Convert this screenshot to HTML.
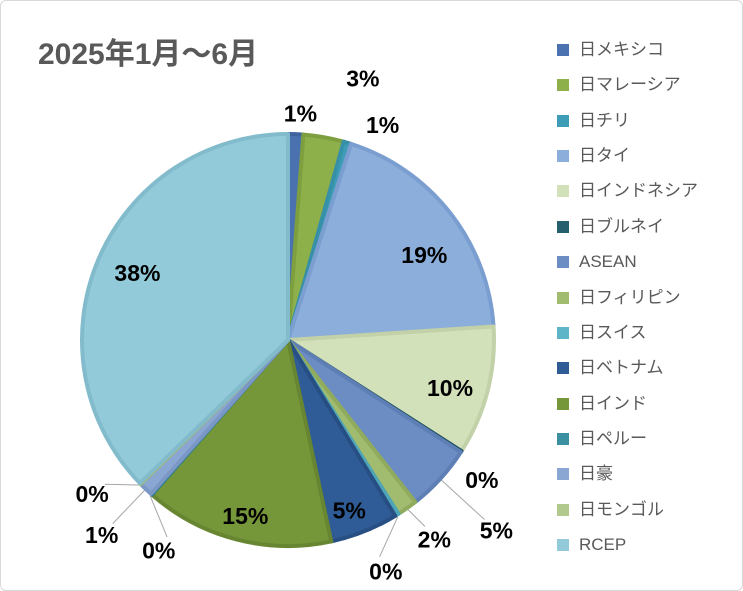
<!DOCTYPE html>
<html><head><meta charset="utf-8"><style>
html,body{margin:0;padding:0;background:#fff}
#card{position:absolute;left:0;top:0;width:741px;height:589px;border:1px solid #d9d9d9;border-radius:6px;overflow:hidden;font-family:"Liberation Sans","Noto Sans CJK JP",sans-serif}
#title{position:absolute;left:37px;top:28px;font-size:30px;font-weight:bold;color:#595959}
.leg{position:absolute;left:556px;font-size:17px;color:#595959;height:20px;line-height:20px}
.leg i{position:absolute;left:0;top:4px;width:12px;height:12px}
.leg span{position:absolute;left:22px;white-space:nowrap}
</style></head><body>
<div id="card">
<div id="title">2025年1月～6月</div>
<svg id="pie" width="743" height="591" style="position:absolute;left:0;top:0"></svg>
<div id="legend"></div>
</div>
<script>
const categories=["日メキシコ","日マレーシア","日チリ","日タイ","日インドネシア","日ブルネイ","ASEAN","日フィリピン","日スイス","日ベトナム","日インド","日ペルー","日豪","日モンゴル","RCEP"];
const values=[1.2,3.2,0.6,19.2,10.2,0.1,5.3,1.6,0.3,5.4,15.0,0.1,1.1,0.1,37.6];
const labels=["1%","3%","1%","19%","10%","0%","5%","2%","0%","5%","15%","0%","1%","0%","38%"];
const colors=["#4a72b0","#8db04a","#3e9db6","#8caedb","#d3e1bb","#255f6e","#6b8dc4","#a1bc6e","#5eb5c8","#2f5c96","#76963a","#3a8fa0","#8aa6d3","#b1c98c","#92cad9"];
const strokes=["#3f64a0","#7e9f3f","#3690a8","#7b9ed0","#c2d1a8","#1d4f5c","#5d7fb5","#90ab5e","#4fa5b8","#284f84","#688632","#30808f","#7a97c6","#a1b97c","#82bbcc"];
const lblFactor=[1.1,1.32,1.14,0.78,0.82,1.16,1.37,1.2,1.22,0.88,0.88,1.2,1.31,1.21,0.8];
const lblAngOff=[1,6,7,6,2,3,0,-1,9,2,-1,-10,0,6,1];
const leader=[0,0,0,0,0,0,1,1,1,0,0,1,1,1,0];
const NS="http://www.w3.org/2000/svg";
const svg=document.getElementById('pie');
const cx=287,cy=339,R=206;
const total=values.reduce((a,b)=>a+b,0);
function pt(a,r){const t=a*Math.PI/180;return [cx+r*Math.sin(t),cy-r*Math.cos(t)];}
let acc=0;
const mids=[];
values.forEach((v,i)=>{
  const a0=acc/total*360,a1=(acc+v)/total*360;acc+=v;
  mids.push((a0+a1)/2);
  const p0=pt(a0,R),p1=pt(a1,R);
  const large=(a1-a0)>180?1:0;
  const p=document.createElementNS(NS,'path');
  p.setAttribute('d',`M${cx},${cy}L${p0[0]},${p0[1]}A${R},${R} 0 ${large} 1 ${p1[0]},${p1[1]}Z`);
  p.setAttribute('fill',colors[i]);p.setAttribute('stroke',strokes[i]);p.setAttribute('stroke-width','4');p.setAttribute('stroke-linejoin','round');
  
  
  svg.appendChild(p);
});
values.forEach((v,i)=>{
  const a=mids[i]+lblAngOff[i];
  const lp=pt(a,R*lblFactor[i]);
  if(leader[i]){
    const e=pt(mids[i],R+2);const q=pt(a,R*lblFactor[i]-16);
    const l=document.createElementNS(NS,'polyline');
    l.setAttribute('points',`${e[0]},${e[1]} ${q[0]},${q[1]}`);
    l.setAttribute('fill','none');l.setAttribute('stroke','#a6a6a6');l.setAttribute('stroke-width','1');
    
    
    svg.appendChild(l);
  }
  const t=document.createElementNS(NS,'text');
  t.setAttribute('x',lp[0]);t.setAttribute('y',lp[1]+8);t.setAttribute('text-anchor','middle');
  t.setAttribute('font-size','23');t.setAttribute('font-weight','bold');t.setAttribute('fill','#000');
  t.setAttribute('font-family','"Liberation Sans",sans-serif');
  t.textContent=labels[i];
  
  
  svg.appendChild(t);
});
const leg=document.getElementById('legend');
categories.forEach((c,i)=>{
  const d=document.createElement('div');d.className='leg';d.style.top=(39+i*35.36)+'px';
  
  
  d.innerHTML=`<i style="background:${colors[i]}"></i><span>${c}</span>`;
  leg.appendChild(d);
});
</script>
</body></html>
